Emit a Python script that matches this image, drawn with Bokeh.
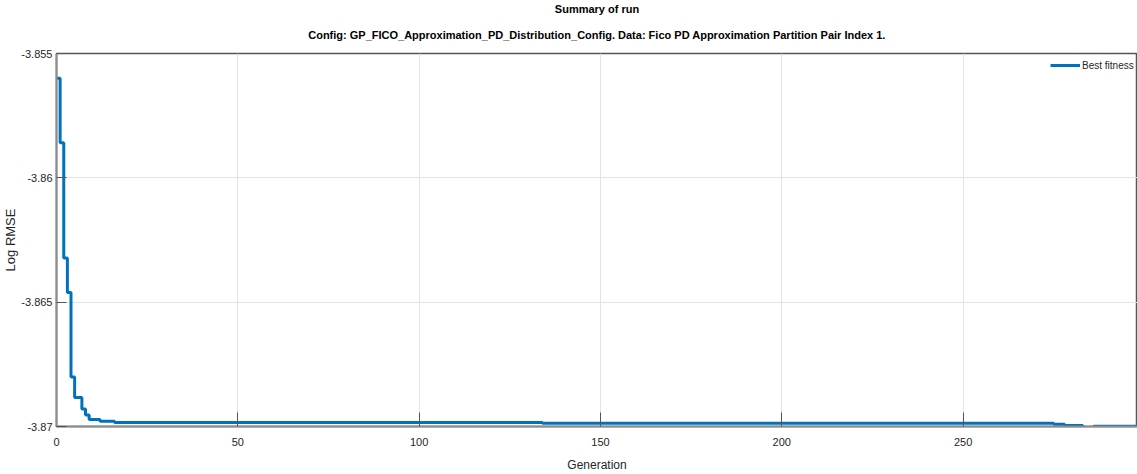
import math
from bokeh.plotting import figure
from bokeh.models import Range1d, FixedTicker, NumeralTickFormatter, Title, Legend, LegendItem
from bokeh.embed import file_html
from bokeh.resources import INLINE

# Data (generation at which best fitness changes)
generation = [0, 1, 2, 3, 4, 5, 7, 8, 9, 12, 16, 134, 275, 278, 283, 286, 298]
best_fitness = [-3.85600, -3.85859, -3.86322, -3.86461, -3.86801, -3.86883, -3.86930,
                -3.86954, -3.86972, -3.86979, -3.86984, -3.86987, -3.86991, -3.86996,
                -3.87006, -3.86999, -3.86999]

x_ticks = [0, 50, 100, 150, 200, 250]
y_ticks = [-3.87, -3.865, -3.86, -3.855]

title_main = "Summary of run"
title_sub = "Config: GP_FICO_Approximation_PD_Distribution_Config. Data: Fico PD Approximation Partition Pair Index 1."

FONT = "Liberation Sans"
TXT = "#262626"

p = figure(width=1137, height=474, output_backend="svg", toolbar_location=None,
           x_range=Range1d(0, 298.1), y_range=Range1d(-3.87, -3.855),
           min_border_left=55, min_border_right=0, min_border_top=40, min_border_bottom=40)
p.title = None

t2 = Title(text=title_sub, align="center", text_font=FONT, text_font_size="11px",
           text_font_style="bold", text_color="#000000", standoff=25, offset=1)
t1 = Title(text=title_main, align="center", text_font=FONT, text_font_size="11px",
           text_font_style="bold", text_color="#000000", standoff=0, offset=1)
p.add_layout(t2, "above")
p.add_layout(t1, "above")

r = p.step(generation, best_fitness, mode="after", line_color="#0072BD", line_width=3)

legend = Legend(items=[LegendItem(label="Best fitness", renderers=[r])],
                location=(990, 351), background_fill_alpha=0, border_line_alpha=0,
                label_text_font=FONT, label_text_font_size="10px", label_text_color=TXT,
                glyph_width=30, glyph_height=12, padding=4, margin=0, spacing=0,
                label_standoff=2)
p.add_layout(legend, "center")

p.outline_line_color = "#555555"
p.outline_line_width = 1.5

p.xaxis.ticker = FixedTicker(ticks=x_ticks)
p.yaxis.ticker = FixedTicker(ticks=y_ticks)
p.yaxis.formatter = NumeralTickFormatter(format="0.[000]")

for ax in (p.xaxis[0], p.yaxis[0]):
    ax.axis_line_color = "#8c8c8c"
    ax.axis_line_width = 2
    ax.major_tick_line_color = "#555555"
    ax.major_tick_out = 0
    ax.minor_tick_in = 0
    ax.minor_tick_out = 0
    ax.major_label_text_font = FONT
    ax.major_label_text_font_size = "11px"
    ax.major_label_text_color = TXT
    ax.axis_label_text_font = FONT
    ax.axis_label_text_font_size = "12px"
    ax.axis_label_text_font_style = "normal"
    ax.axis_label_text_color = TXT

p.xaxis.major_tick_in = 14
p.yaxis.major_tick_in = 10
p.xaxis.major_label_standoff = 11
p.xaxis.axis_label = "Generation"
p.xaxis.axis_label_standoff = 9
p.yaxis.major_label_standoff = 4
p.yaxis.axis_label = "Log RMSE"
p.yaxis.axis_label_text_font_size = "13px"
p.yaxis.axis_label_standoff = 0

p.xgrid.grid_line_color = "#e3e3e3"
p.ygrid.grid_line_color = "#e3e3e3"

open("out.html", "w").write(file_html(p, INLINE))
